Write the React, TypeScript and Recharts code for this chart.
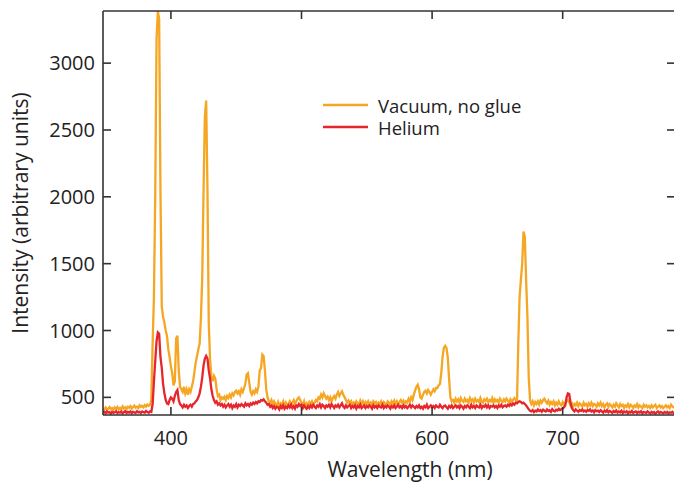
import { LineChart, Line, XAxis, YAxis, Legend, Label } from "recharts";

// spectra sampled every 1 nm, starting at 348 nm
const WL_START = 348;

const vacuum = [
  418, 410, 424, 406, 415, 428, 412, 420, 408, 425, // 348
  414, 428, 411, 421, 409, 432, 417, 426, 413, 430, // 358
  421, 434, 416, 428, 438, 423, 431, 419, 440, 429, // 368
  436, 425, 442, 431, 446, 437, 444, 480, 900, 1250, // 378
  2010, 3180, 3390, 3330, 2050, 1180, 1100, 1060, 1000, 960, // 388
  860, 800, 730, 680, 590, 620, 940, 960, 700, 580, // 398
  560, 540, 580, 530, 560, 520, 560, 540, 580, 620, // 408
  690, 760, 810, 860, 900, 1100, 1400, 2050, 2600, 2720, // 418
  2050, 1050, 780, 660, 620, 660, 640, 560, 510, 520, // 428
  480, 500, 490, 505, 480, 510, 495, 520, 500, 530, // 438
  515, 540, 550, 530, 545, 520, 560, 540, 570, 600, // 448
  670, 680, 610, 540, 520, 545, 530, 560, 540, 580, // 458
  700, 720, 820, 810, 700, 560, 500, 470, 460, 480, // 468
  450, 470, 450, 440, 465, 430, 455, 445, 470, 440, // 478
  460, 435, 450, 470, 445, 460, 480, 455, 470, 490, // 488
  500, 480, 460, 440, 470, 430, 455, 440, 465, 450, // 498
  470, 445, 460, 480, 470, 500, 490, 520, 500, 530, // 508
  510, 490, 505, 480, 500, 470, 495, 510, 490, 520, // 518
  540, 510, 530, 545, 520, 500, 480, 460, 475, 455, // 528
  470, 445, 460, 440, 470, 455, 445, 475, 450, 470, // 538
  440, 465, 450, 470, 445, 460, 440, 470, 455, 465, // 548
  440, 460, 450, 470, 445, 465, 455, 440, 470, 460, // 558
  445, 470, 455, 475, 450, 470, 445, 465, 480, 460, // 568
  475, 455, 470, 460, 490, 470, 500, 480, 520, 550, // 578
  580, 595, 560, 500, 490, 520, 540, 550, 530, 555, // 588
  540, 520, 540, 560, 545, 570, 570, 590, 600, 680, // 598
  800, 870, 885, 870, 800, 640, 500, 470, 480, 460, // 608
  490, 470, 485, 460, 495, 475, 465, 490, 470, 480, // 618
  460, 495, 475, 485, 460, 490, 470, 480, 465, 495, // 628
  470, 460, 485, 475, 490, 465, 480, 470, 495, 460, // 638
  485, 470, 480, 460, 490, 475, 465, 485, 470, 490, // 648
  475, 460, 485, 470, 480, 495, 480, 470, 900, 1250, // 658
  1380, 1500, 1740, 1700, 1380, 1100, 650, 480, 450, 470, // 668
  440, 465, 450, 470, 445, 475, 460, 480, 490, 470, // 678
  455, 475, 445, 465, 450, 470, 440, 460, 445, 470, // 688
  450, 440, 465, 445, 460, 470, 480, 465, 440, 455, // 698
  430, 450, 440, 460, 435, 455, 445, 430, 460, 440, // 708
  450, 430, 455, 440, 460, 435, 450, 445, 430, 455, // 718
  440, 460, 435, 450, 425, 445, 455, 430, 450, 440, // 728
  425, 445, 430, 455, 440, 425, 450, 435, 445, 420, // 738
  440, 430, 450, 425, 445, 435, 420, 440, 430, 450, // 748
  425, 440, 430, 420, 445, 430, 440, 425, 435, 420, // 758
  440, 425, 435, 445, 420, 430, 440, 425, 435, 420, // 768
  430, 440, 425, 435, 420, 445, 430, 425, 435, // 778
];

const helium = [
  385, 392, 380, 395, 386, 390, 378, 393, 384, 388, // 348
  396, 382, 390, 385, 394, 380, 389, 397, 383, 391, // 358
  386, 395, 381, 392, 388, 384, 396, 387, 392, 383, // 368
  395, 389, 386, 398, 390, 385, 396, 392, 450, 620, // 378
  770, 920, 985, 975, 800, 720, 600, 530, 480, 455, // 388
  450, 480, 500, 490, 470, 510, 540, 555, 480, 450, // 398
  440, 425, 445, 430, 440, 420, 435, 445, 430, 450, // 408
  455, 470, 480, 500, 530, 580, 650, 740, 790, 810, // 418
  790, 700, 640, 560, 510, 480, 460, 470, 445, 455, // 428
  440, 450, 430, 445, 425, 440, 450, 430, 445, 420, // 438
  440, 430, 450, 425, 445, 435, 450, 440, 430, 455, // 448
  440, 450, 435, 455, 445, 460, 450, 465, 455, 470, // 458
  465, 480, 475, 485, 470, 460, 445, 450, 430, 440, // 468
  420, 435, 415, 430, 425, 410, 435, 420, 440, 415, // 478
  430, 420, 440, 425, 445, 420, 435, 415, 440, 430, // 488
  450, 435, 445, 420, 440, 425, 415, 435, 420, 440, // 498
  425, 445, 430, 420, 440, 430, 450, 425, 445, 435, // 508
  420, 440, 430, 445, 425, 450, 435, 420, 440, 430, // 518
  445, 425, 440, 455, 430, 420, 440, 425, 435, 445, // 528
  420, 435, 425, 440, 415, 435, 425, 445, 420, 430, // 538
  440, 420, 435, 425, 440, 430, 415, 440, 425, 435, // 548
  420, 440, 430, 425, 445, 420, 435, 425, 440, 430, // 558
  415, 435, 425, 440, 420, 430, 445, 425, 435, 420, // 568
  440, 425, 435, 420, 430, 445, 425, 440, 430, 420, // 578
  435, 425, 440, 420, 430, 415, 435, 425, 445, 420, // 588
  430, 440, 425, 435, 420, 440, 430, 425, 445, 430, // 598
  420, 435, 440, 425, 415, 435, 425, 440, 420, 430, // 608
  440, 425, 435, 420, 440, 430, 415, 435, 425, 440, // 618
  430, 420, 445, 425, 435, 420, 440, 430, 425, 445, // 628
  420, 435, 430, 445, 425, 440, 420, 435, 430, 440, // 638
  425, 435, 420, 440, 430, 445, 425, 435, 440, 430, // 648
  445, 435, 450, 440, 455, 445, 460, 455, 465, 470, // 658
  465, 455, 460, 450, 440, 425, 410, 400, 395, 405, // 668
  390, 400, 395, 410, 398, 405, 392, 408, 400, 395, // 678
  410, 398, 404, 392, 412, 400, 396, 408, 402, 415, // 688
  405, 410, 418, 425, 440, 500, 530, 525, 460, 420, // 698
  405, 395, 410, 400, 392, 405, 398, 410, 395, 402, // 708
  392, 406, 398, 410, 394, 402, 388, 405, 396, 400, // 718
  390, 404, 395, 385, 400, 392, 405, 388, 398, 392, // 728
  384, 398, 390, 402, 386, 395, 388, 400, 382, 394, // 738
  388, 396, 380, 392, 386, 398, 384, 390, 395, 382, // 748
  392, 386, 396, 380, 390, 388, 384, 395, 386, 380, // 758
  392, 384, 390, 378, 388, 395, 382, 390, 386, 380, // 768
  390, 384, 392, 380, 388, 385, 392, 380, 387, // 778
];

const seriesNames = ["Vacuum, no glue", "Helium"];
const xTicks = [400, 500, 600, 700];
const yTicks = [500, 1000, 1500, 2000, 2500, 3000];
const xDomain = [348, 786];
const yDomain = [368, 3390];

const ORANGE = "#F5A623";
const RED = "#E6262C";
const AXIS = "#333";
const TEXT = "#222";
const FONT = "'Open Sans', sans-serif";
const TICK_LEN = 8;

const data = vacuum.map((v, i) => ({
  wl: WL_START + i,
  vacuum: v,
  helium: helium[i],
}));

// inward tick marks, drawn by hand so the labels stay outside
function BottomTick({ x, y, payload }: any) {
  return (
    <g>
      <line x1={x} y1={y} x2={x} y2={y - TICK_LEN} stroke={AXIS} strokeWidth={1.6} />
      <text x={x} y={y + 30} textAnchor="middle" fill={TEXT} fontSize={20} fontFamily={FONT}>
        {payload.value}
      </text>
    </g>
  );
}

function LeftTick({ x, y, payload }: any) {
  return (
    <g>
      <line x1={x} y1={y} x2={x + TICK_LEN} y2={y} stroke={AXIS} strokeWidth={1.6} />
      <text x={x - 8} y={y + 7} textAnchor="end" fill={TEXT} fontSize={20} fontFamily={FONT}>
        {payload.value}
      </text>
    </g>
  );
}

function TopTick({ x, y }: any) {
  return <line x1={x} y1={y} x2={x} y2={y + TICK_LEN} stroke={AXIS} strokeWidth={1.6} />;
}

function RightTick({ x, y }: any) {
  return <line x1={x} y1={y} x2={x - TICK_LEN} y2={y} stroke={AXIS} strokeWidth={1.6} />;
}

function LegendBox({ payload }: any) {
  // keep the order of the series, not alphabetical
  const items = [...(payload || [])].sort(
    (a: any, b: any) => seriesNames.indexOf(a.value) - seriesNames.indexOf(b.value)
  );
  return (
    <div style={{ fontFamily: FONT, color: TEXT }}>
      {items.map((p: any) => (
        <div
          key={p.value}
          style={{ display: "flex", alignItems: "center", height: 22 }}
        >
          <svg width={45} height={4} style={{ display: "block" }}>
            <line x1={0} y1={2} x2={45} y2={2} stroke={p.color} strokeWidth={2.5} />
          </svg>
          <span style={{ marginLeft: 10, fontSize: 18.5, lineHeight: "19px" }}>
            {p.value}
          </span>
        </div>
      ))}
    </div>
  );
}

export default function App() {
  return (
    <div
      style={{
        position: "absolute",
        left: 0,
        top: 0,
        width: 674,
        height: 483,
        overflow: "hidden",
        background: "#fff",
      }}
    >
      <LineChart
        width={680}
        height={483}
        data={data}
        margin={{ top: 10, right: 4, bottom: 0, left: 0 }}
      >
        <XAxis
          xAxisId="bottom"
          dataKey="wl"
          type="number"
          domain={xDomain}
          ticks={xTicks}
          allowDataOverflow
          height={68}
          tickSize={0}
          tickMargin={0}
          tickLine={false}
          tick={<BottomTick />}
          stroke={AXIS}
          strokeWidth={1.6}
        >
          <Label
            value="Wavelength (nm)"
            position="center"
            dx={21}
            dy={21}
            style={{ fill: TEXT, fontSize: 21, fontFamily: FONT }}
          />
        </XAxis>
        <XAxis
          xAxisId="top"
          orientation="top"
          dataKey="wl"
          type="number"
          domain={xDomain}
          ticks={xTicks}
          allowDataOverflow
          height={1}
          tickSize={0}
          tickMargin={0}
          tickLine={false}
          tick={<TopTick />}
          stroke={AXIS}
          strokeWidth={1.6}
        />
        <YAxis
          yAxisId="left"
          type="number"
          domain={yDomain}
          ticks={yTicks}
          allowDataOverflow
          width={103}
          tickSize={0}
          tickMargin={0}
          tickLine={false}
          tick={<LeftTick />}
          stroke={AXIS}
          strokeWidth={1.6}
        >
          <Label
            value="Intensity (arbitrary units)"
            position="center"
            angle={-90}
            dx={-31}
            style={{ fill: TEXT, fontSize: 21, fontFamily: FONT }}
          />
        </YAxis>
        {/* the frame's right edge falls just outside the picture, only its ticks show */}
        <YAxis
          yAxisId="right"
          orientation="right"
          type="number"
          domain={yDomain}
          ticks={yTicks}
          allowDataOverflow
          width={1}
          tickSize={0}
          tickMargin={0}
          tickLine={false}
          axisLine={false}
          tick={<RightTick />}
        />
        <Legend
          layout="vertical"
          align="center"
          verticalAlign="middle"
          content={<LegendBox />}
          wrapperStyle={{ position: "absolute", left: 323, top: 94, width: "auto" }}
        />
        <Line
          xAxisId="bottom"
          yAxisId="left"
          type="linear"
          dataKey="vacuum"
          name={seriesNames[0]}
          stroke={ORANGE}
          strokeWidth={2.3}
          dot={false}
          isAnimationActive={false}
        />
        <Line
          xAxisId="bottom"
          yAxisId="left"
          type="linear"
          dataKey="helium"
          name={seriesNames[1]}
          stroke={RED}
          strokeWidth={2.3}
          dot={false}
          isAnimationActive={false}
        />
      </LineChart>
    </div>
  );
}
